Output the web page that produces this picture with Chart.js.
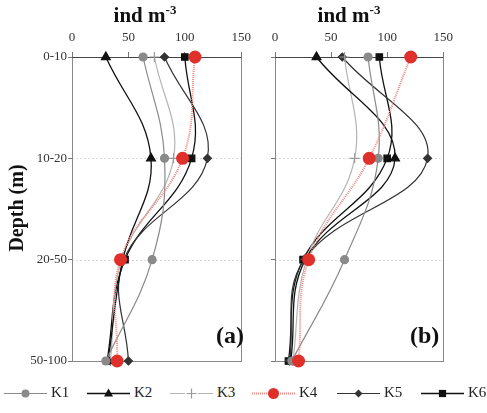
<!DOCTYPE html>
<html>
<head>
<meta charset="utf-8">
<script src="https://cdn.jsdelivr.net/npm/chart.js@4/dist/chart.umd.min.js"></script>
<style>
  body { margin: 0; background: #fff; font-family: "Liberation Serif", serif; }
  #wrap { position: relative; width: 487px; height: 413px; overflow: hidden; }
  canvas.plot { position: absolute; top: 0; }
  .lab { position: absolute; color: #111; font-weight: bold; white-space: nowrap; }
  .leg { position: absolute; top: 385px; height: 16px; }
  .legtxt { position: absolute; top: 384px; font-size: 15px; color: #222; }
</style>
</head>
<body>
<div id="wrap">
  <canvas id="chartA" class="plot" style="left:0" width="258" height="375"></canvas>
  <canvas id="chartB" class="plot" style="left:255px" width="205" height="375"></canvas>

  <div class="lab" style="left:145px;top:3px;font-size:21px;transform:translateX(-50%)">ind m<span style="font-size:13px;position:relative;top:-8px">-3</span></div>
  <div class="lab" style="left:349px;top:3px;font-size:21px;transform:translateX(-50%)">ind m<span style="font-size:13px;position:relative;top:-8px">-3</span></div>
  <div class="lab" style="left:16px;top:208px;font-size:20px;transform:translate(-50%,-50%) rotate(-90deg)">Depth (m)</div>
  <div class="lab" style="left:216px;top:322px;font-size:24px">(a)</div>
  <div class="lab" style="left:410px;top:322px;font-size:24px">(b)</div>
  <div id="legend"></div>
</div>

<script>
// depth classes and x ticks
const depths = ['0-10', '10-20', '20-50', '50-100'];
const xTicks = [0, 50, 100, 150];
const seriesNames = ['K1', 'K2', 'K3', 'K4', 'K5', 'K6'];

// panel (a) values, ind m-3
const a_K1 = [63, 82, 71, 30];
const a_K2 = [30, 70, 45, 32];
const a_K3 = [73, 90, 44, 34];
const a_K4 = [109, 98, 43, 40];
const a_K5 = [82, 120, 46, 50];
const a_K6 = [100, 106, 47, 31];

// panel (b) values
const b_K1 = [83, 92, 62, 15];
const b_K2 = [37, 107, 27, 14];
const b_K3 = [62, 71, 28, 16];
const b_K4 = [121, 84, 30, 21];
const b_K5 = [60, 136, 26, 13];
const b_K6 = [93, 100, 25, 12];

const styles = {
  K1: { borderColor: '#8a8a8a', pointStyle: 'circle', pointRadius: 4, pointBackgroundColor: '#8a8a8a', pointBorderColor: '#8a8a8a', borderWidth: 1.2 },
  K2: { borderColor: '#111', pointStyle: 'triangle', pointRadius: 5, pointBackgroundColor: '#111', pointBorderColor: '#111', borderWidth: 1.3 },
  K3: { borderColor: '#b4b4b4', pointStyle: 'cross', pointRadius: 5, pointBackgroundColor: '#999', pointBorderColor: '#999', borderWidth: 1.2 },
  K4: { borderColor: '#ef8a84', pointStyle: 'circle', pointRadius: 5.5, pointBackgroundColor: '#e0302b', pointBorderColor: '#e0302b', borderWidth: 2, borderDash: [1, 1] },
  K5: { borderColor: '#333', pointStyle: 'rectRot', pointRadius: 4, pointBackgroundColor: '#333', pointBorderColor: '#333', borderWidth: 1.2 },
  K6: { borderColor: '#111', pointStyle: 'rect', pointRadius: 4.5, pointBackgroundColor: '#111', pointBorderColor: '#111', borderWidth: 1.3 }
};

function makeDatasets(vals) {
  return seriesNames.map((n, i) => Object.assign({
    label: n,
    data: vals[i],
    tension: 0.4,
    fill: false,
    clip: false,
    order: n === 'K4' ? 0 : 1
  }, styles[n]));
}

// box + dotted depth lines
const frame = {
  id: 'frame',
  beforeDatasetsDraw(chart) {
    const { ctx, chartArea: a, scales: { y } } = chart;
    ctx.save();
    ctx.lineWidth = 1;
    ctx.strokeStyle = '#dcdcdc';
    ctx.setLineDash([2, 2]);
    [1, 2].forEach(i => {
      const py = Math.round(y.getPixelForValue(i)) + 0.5;
      ctx.beginPath();
      ctx.moveTo(a.left, py);
      ctx.lineTo(a.right, py);
      ctx.stroke();
    });
    ctx.setLineDash([]);
    ctx.strokeStyle = '#888';
    ctx.strokeRect(Math.round(a.left) + 0.5, Math.round(a.top) + 0.5, Math.round(a.width), Math.round(a.height));
    ctx.strokeStyle = '#444';
    ctx.beginPath();
    ctx.moveTo(a.left, Math.round(a.top) + 0.5);
    ctx.lineTo(a.right, Math.round(a.top) + 0.5);
    ctx.stroke();
    ctx.restore();
  }
};

function makeChart(id, vals, yWidth, showLabels, padRight) {
  return new Chart(document.getElementById(id), {
    type: 'line',
    data: { labels: depths, datasets: makeDatasets(vals) },
    options: {
      responsive: false,
      animation: false,
      indexAxis: 'y',
      layout: { padding: { right: padRight, bottom: 14, left: 0, top: 0 } },
      plugins: { legend: { display: false }, tooltip: { enabled: false } },
      scales: {
        x: {
          type: 'linear',
          position: 'top',
          min: 0,
          max: 150,
          afterBuildTicks: s => { s.ticks = xTicks.map(v => ({ value: v })); },
          afterFit: s => { s.height = 57; },
          grid: { drawOnChartArea: false, tickLength: 5, color: '#777' },
          border: { display: false },
          ticks: { padding: 7, color: '#333', font: { family: 'Liberation Serif', size: 13 }, maxRotation: 0 }
        },
        y: {
          type: 'category',
          afterFit: s => { s.width = yWidth; },
          grid: { drawOnChartArea: false, tickLength: 4, color: '#777' },
          border: { display: false },
          ticks: { display: showLabels, padding: 1, color: '#333', font: { family: 'Liberation Serif', size: 13 } }
        }
      }
    },
    plugins: [frame]
  });
}

makeChart('chartA', [a_K1, a_K2, a_K3, a_K4, a_K5, a_K6], 72, true, 12);
makeChart('chartB', [b_K1, b_K2, b_K3, b_K4, b_K5, b_K6], 20, false, 14);

// legend
function drawMarker(g, st, x, y, r, fillC) {
  g.fillStyle = fillC; g.strokeStyle = fillC; g.lineWidth = 1.2;
  g.beginPath();
  if (st === 'circle') { g.arc(x, y, r, 0, Math.PI * 2); g.fill(); }
  else if (st === 'triangle') { g.moveTo(x, y - r); g.lineTo(x + r * 0.9, y + r * 0.6); g.lineTo(x - r * 0.9, y + r * 0.6); g.closePath(); g.fill(); }
  else if (st === 'rect') { g.rect(x - r * 0.8, y - r * 0.8, r * 1.6, r * 1.6); g.fill(); }
  else if (st === 'rectRot') { g.moveTo(x, y - r); g.lineTo(x + r, y); g.lineTo(x, y + r); g.lineTo(x - r, y); g.closePath(); g.fill(); }
  else if (st === 'cross') { g.moveTo(x - r, y); g.lineTo(x + r, y); g.moveTo(x, y - r); g.lineTo(x, y + r); g.stroke(); }
}

const legLefts = [4, 87, 170, 252, 337, 421];
const legend = document.getElementById('legend');
seriesNames.forEach((n, i) => {
  const s = styles[n];
  const cv = document.createElement('canvas');
  cv.className = 'leg';
  cv.width = 43; cv.height = 16;
  cv.style.left = legLefts[i] + 'px';
  legend.appendChild(cv);
  const g = cv.getContext('2d');
  g.strokeStyle = s.borderColor; g.lineWidth = s.borderWidth;
  g.setLineDash(s.borderDash || []);
  g.beginPath(); g.moveTo(0, 8.5); g.lineTo(43, 8.5); g.stroke();
  g.setLineDash([]);
  if (n === 'K3') { g.fillStyle = '#fff'; g.fillRect(15, 3, 13, 11); }
  drawMarker(g, s.pointStyle, 21.5, 8.5, s.pointRadius, s.pointBackgroundColor);
  const t = document.createElement('div');
  t.className = 'legtxt';
  t.style.left = (legLefts[i] + 47) + 'px';
  t.textContent = n;
  legend.appendChild(t);
});
</script>
</body>
</html>
